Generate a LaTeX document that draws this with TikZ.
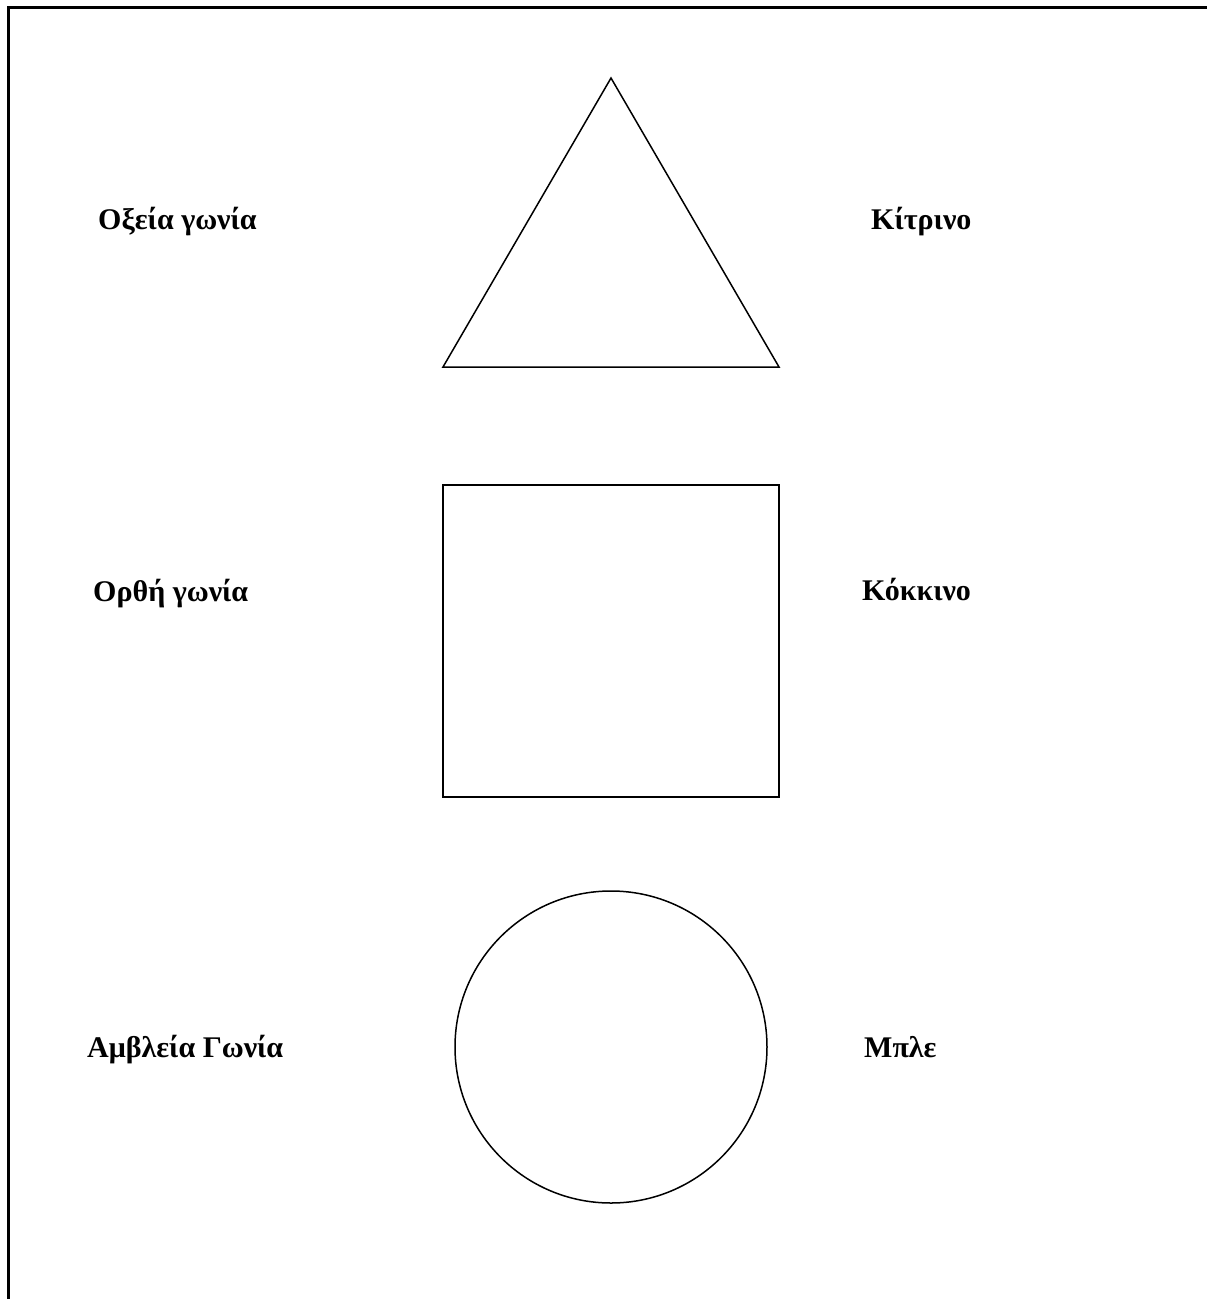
\documentclass[tikz,border=0pt]{standalone}
\usepackage{fontspec}
\setmainfont{Liberation Serif}
\usepackage{tikz}

\begin{document}
\begin{tikzpicture}[
    x=1pt, y=-1pt,
    figure/.style={draw, line width=1.5pt},
    frameline/.style={line width=3pt},
    shapetext/.style={anchor=base west, inner sep=0pt, font=\bfseries\fontsize{30}{34}\selectfont}
]
\useasboundingbox (0,0) rectangle (1207,1299);
% frame
\draw [frameline] (1207,7) -- (8,7) -- (8,1299);

% shapes
\draw [figure] (611,78) -- (779,367) -- (443,367) -- cycle;
\draw [figure] (443,485) rectangle (779,797);
\draw [figure] (611,1047) circle (156);

% angle names
\node (acute) [shapetext] at (98,229) {Οξεία γωνία};
\node (right) [shapetext] at (93,601) {Ορθή γωνία};
\node (obtuse) [shapetext] at (87,1057) {Αμβλεία Γωνία};

% colour names
\node (yellow) [shapetext] at (871,229) {Κίτρινο};
\node (red) [shapetext] at (862,600) {Κόκκινο};
\node (blue) [shapetext] at (864,1057) {Μπλε};
\end{tikzpicture}
\end{document}
